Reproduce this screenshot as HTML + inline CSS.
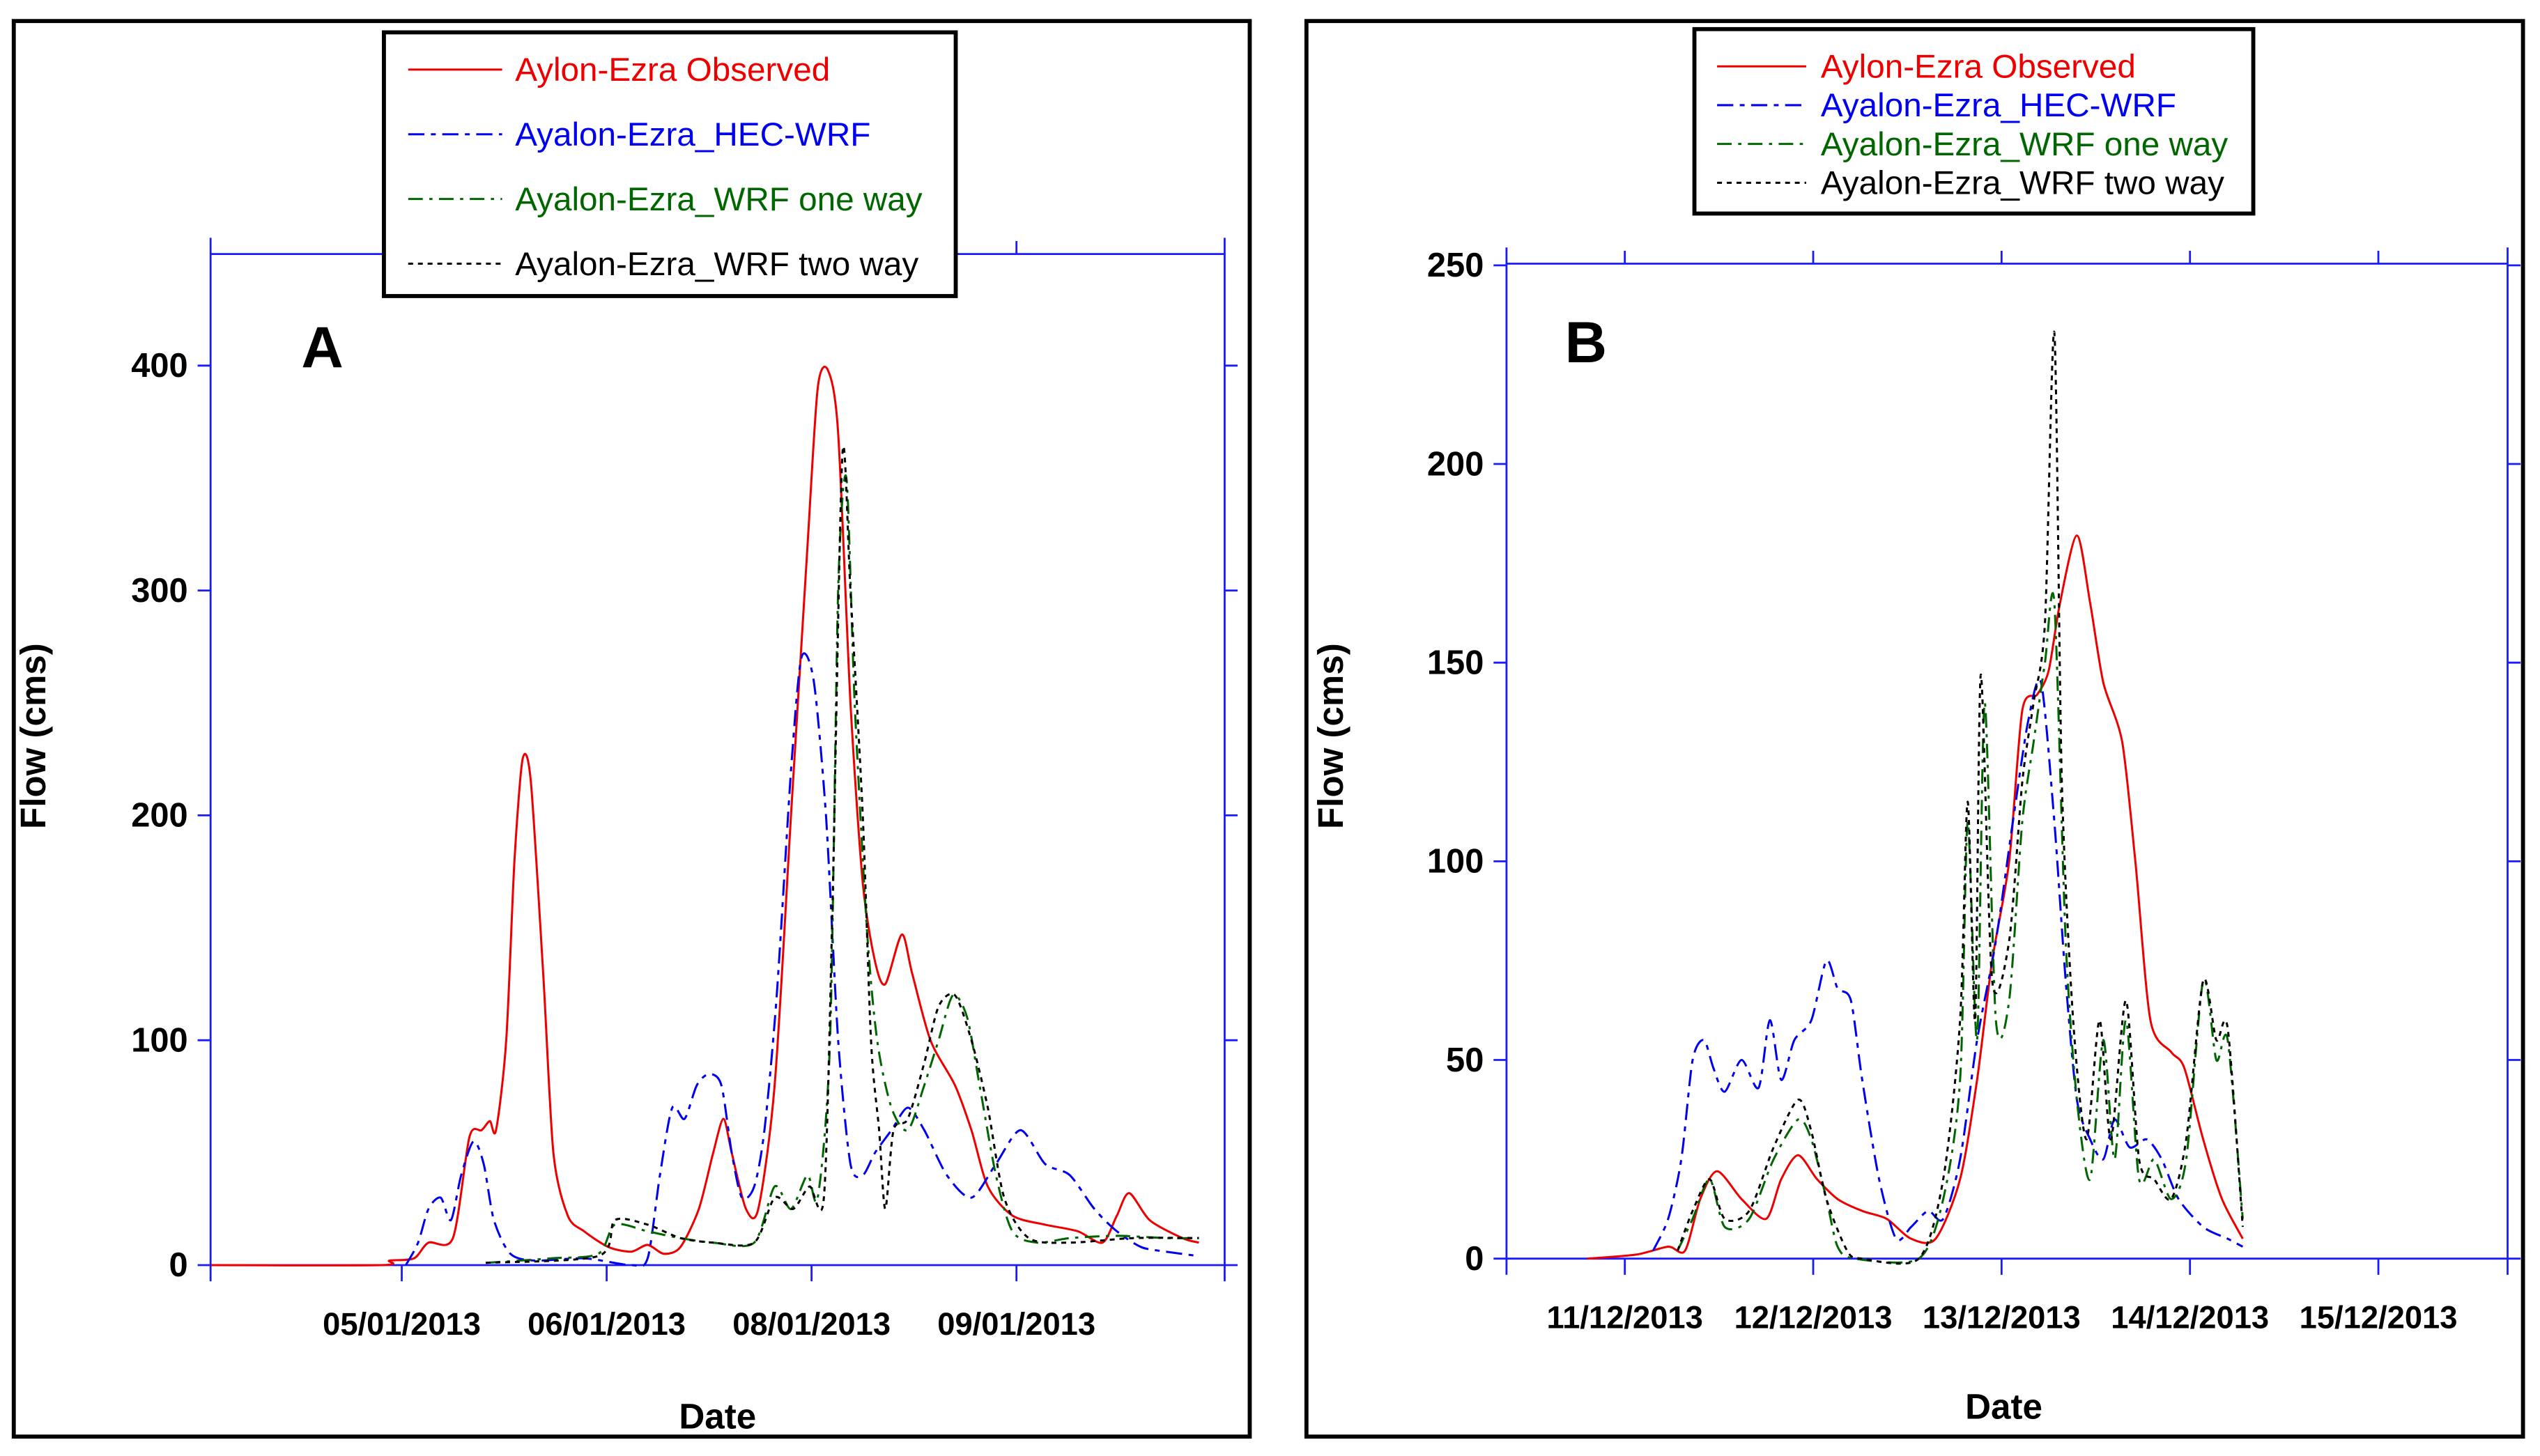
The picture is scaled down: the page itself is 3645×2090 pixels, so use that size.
<!DOCTYPE html>
<html><head><meta charset="utf-8"><style>
html,body{margin:0;padding:0;background:#fff;}
svg{display:block;}
text{font-family:"Liberation Sans",Arial,sans-serif;}
</style></head><body>
<svg id="chart" width="3645" height="2090" viewBox="0 0 1568 900" preserveAspectRatio="none" xmlns="http://www.w3.org/2000/svg">
<rect x="0" y="0" width="1568" height="900" fill="#fff"/>
<rect x="8.5" y="13" width="763" height="875" fill="none" stroke="#000" stroke-width="2.5"/>
<rect x="806.5" y="13" width="751" height="875" fill="none" stroke="#000" stroke-width="2.5"/>
<g id="gA"></g>
<g id="gB"></g>
</svg>
<script>
// ---- Panel A data (x: label index, 0=05/01/2013, 1=06/01, 2=08/01, 3=09/01) ----
const aTickLabels = ["05/01/2013","06/01/2013","08/01/2013","09/01/2013"];
const aYTicks = [0,100,200,300,400];
const aObsX = [-0.93,-0.10,-0.06,0.06,0.13,0.25,0.33,0.39,0.43,0.46,0.51,0.55,0.59,0.63,0.69,0.74,0.81,0.89,1.01,1.12,1.20,1.28,1.36,1.45,1.52,1.57,1.61,1.68,1.74,1.82,1.90,1.98,2.03,2.08,2.13,2.19,2.25,2.31,2.36,2.44,2.49,2.58,2.70,2.78,2.86,2.98,3.14,3.30,3.42,3.49,3.55,3.65,3.81,3.89];
const aObsY = [0,0,2,3,10,12,57,60,64,60,100,180,225,215,130,50,22,15,8,6,9,5,8,25,50,65,50,25,25,80,200,320,390,398,370,250,170,135,125,147,130,100,80,60,35,22,18,15,10,22,32,20,12,10];
const aHecX = [0.02,0.08,0.13,0.19,0.24,0.29,0.35,0.40,0.45,0.53,0.65,0.89,1.12,1.20,1.26,1.32,1.38,1.44,1.50,1.56,1.61,1.66,1.72,1.77,1.83,1.90,1.95,2.01,2.07,2.13,2.19,2.25,2.31,2.39,2.47,2.55,2.66,2.78,2.90,3.02,3.14,3.26,3.38,3.49,3.61,3.73,3.89];
const aHecY = [0,10,25,30,20,40,55,45,20,5,2,3,0,3,40,70,65,80,85,80,50,30,35,60,120,220,270,260,200,100,45,40,50,60,70,60,40,30,45,60,45,40,25,15,8,6,4];
const aOneX = [0.41,0.73,0.96,1.04,1.20,1.36,1.52,1.72,1.82,1.90,1.98,2.03,2.09,2.13,2.17,2.21,2.27,2.32,2.39,2.47,2.55,2.62,2.69,2.76,2.82,2.90,2.98,3.10,3.26,3.49,3.73,3.89];
const aOneY = [1,3,5,18,15,12,10,10,35,25,40,30,100,300,350,250,150,100,70,60,80,100,120,110,80,40,15,10,12,13,12,12];
const aTwoX = [0.41,0.96,1.04,1.20,1.36,1.52,1.72,1.82,1.91,1.99,2.06,2.10,2.15,2.19,2.25,2.29,2.33,2.36,2.40,2.47,2.55,2.62,2.70,2.78,2.86,2.94,3.06,3.26,3.57,3.89];
const aTwoY = [1,4,20,18,12,10,10,30,25,35,30,150,360,300,200,100,60,25,60,65,90,115,120,100,70,30,12,10,12,12];

// ---- Panel B data (x: days since 11/12/2013) ----
const bTickLabels = ["11/12/2013","12/12/2013","13/12/2013","14/12/2013","15/12/2013"];
const bYTicks = [0,50,100,150,200,250];
const bObsX = [-0.20,0.06,0.23,0.32,0.40,0.49,0.62,0.75,0.83,0.92,1.02,1.13,1.26,1.39,1.52,1.65,1.78,1.87,1.95,2.04,2.11,2.19,2.25,2.31,2.40,2.47,2.54,2.64,2.71,2.79,2.90,2.97,3.07,3.17,3.28];
const bObsY = [0,1,3,2,15,22,15,10,20,26,20,15,12,10,5,5,20,45,75,100,138,142,148,165,182,165,145,130,100,60,52,48,30,15,5];
const bHecX = [0.15,0.23,0.30,0.36,0.42,0.47,0.53,0.62,0.71,0.77,0.83,0.90,0.99,1.07,1.13,1.20,1.26,1.35,1.44,1.52,1.61,1.69,1.78,1.87,1.97,2.06,2.14,2.21,2.28,2.34,2.40,2.47,2.54,2.60,2.68,2.77,2.85,2.94,3.07,3.20,3.28];
const bHecY = [2,10,25,50,55,48,42,50,43,60,45,55,60,75,68,65,45,20,5,8,12,10,25,55,80,110,135,145,110,70,40,30,25,35,28,30,25,15,8,5,3];
const bOneX = [0.28,0.36,0.45,0.53,0.66,0.79,0.92,0.99,1.07,1.13,1.22,1.56,1.69,1.78,1.82,1.87,1.91,1.97,2.04,2.11,2.17,2.23,2.28,2.34,2.40,2.47,2.54,2.60,2.66,2.73,2.81,2.90,2.98,3.07,3.14,3.20,3.28];
const bOneY = [2,10,20,8,10,25,35,30,15,3,0,0,15,45,110,55,140,60,65,110,130,150,165,80,40,20,55,25,60,20,25,15,25,70,50,55,10];
const bTwoX = [0.28,0.36,0.45,0.53,0.66,0.79,0.92,0.99,1.07,1.18,1.26,1.56,1.69,1.78,1.82,1.86,1.89,1.95,2.04,2.11,2.17,2.23,2.28,2.32,2.38,2.45,2.52,2.58,2.66,2.73,2.81,2.90,2.98,3.07,3.14,3.20,3.28];
const bTwoY = [2,12,20,10,12,28,40,32,15,2,0,0,20,60,115,60,147,70,80,120,140,160,233,120,60,30,60,30,65,25,20,15,30,70,55,58,8];

const NS = "http://www.w3.org/2000/svg";
function mk(parent, tag, attrs, txt){
  const e = document.createElementNS(NS, tag);
  for (const k in attrs) e.setAttribute(k, attrs[k]);
  if (txt !== undefined) e.textContent = txt;
  parent.appendChild(e);
  return e;
}
const BLUE = "#1a1aff";
const styles = {
  obs:{stroke:"#ee0000", dash:""},
  hec:{stroke:"#0000ee", dash:"10,4,3,4"},
  one:{stroke:"#006600", dash:"9,4,2,4"},
  two:{stroke:"#000000", dash:"3,3"}
};
function smoothPath(pts){
  let d = "M"+pts[0][0].toFixed(1)+","+pts[0][1].toFixed(1);
  for (let i=0;i<pts.length-1;i++){
    const p0 = pts[i-1]||pts[i], p1 = pts[i], p2 = pts[i+1], p3 = pts[i+2]||p2;
    const t = 0.27;
    const c1x = p1[0]+(p2[0]-p0[0])*t/2, c1y = p1[1]+(p2[1]-p0[1])*t/2;
    const c2x = p2[0]-(p3[0]-p1[0])*t/2, c2y = p2[1]-(p3[1]-p1[1])*t/2;
    d += " C"+c1x.toFixed(1)+","+c1y.toFixed(1)+" "+c2x.toFixed(1)+","+c2y.toFixed(1)+" "+p2[0].toFixed(1)+","+p2[1].toFixed(1);
  }
  return d;
}

function drawPanel(g, cfg){
  const sx = v => cfg.x0 + (v - cfg.d0) * (cfg.x1 - cfg.x0) / (cfg.d1 - cfg.d0);
  const sy = v => cfg.yb - v * (cfg.yb - cfg.yt) / cfg.ymax;
  let e;
  e = mk(g,"line",{x1:cfg.x0,y1:cfg.axTop-10,x2:cfg.x0,y2:cfg.yb+10,stroke:BLUE,"stroke-width":1.2});
   
  e = mk(g,"line",{x1:cfg.x1,y1:cfg.axTop-10,x2:cfg.x1,y2:cfg.yb+10,stroke:BLUE,"stroke-width":1.2});
   
  e = mk(g,"line",{x1:cfg.x0,y1:cfg.yb,x2:cfg.x1,y2:cfg.yb,stroke:BLUE,"stroke-width":1.2});
   
  e = mk(g,"line",{x1:cfg.x0,y1:cfg.axTop,x2:cfg.x1,y2:cfg.axTop,stroke:BLUE,"stroke-width":1.2});
   
  cfg.yTicks.forEach(v=>{
    const y = sy(v);
    let t = mk(g,"line",{x1:cfg.x0-8,y1:y,x2:cfg.x0,y2:y,stroke:BLUE,"stroke-width":1.2});
     
    t = mk(g,"line",{x1:cfg.x1,y1:y,x2:cfg.x1+8,y2:y,stroke:BLUE,"stroke-width":1.2});
     
    const l = mk(g,"text",{x:cfg.x0-14,y:y+7,"text-anchor":"end","font-size":21,"font-weight":"bold",fill:"#000"},String(v));
     
  });
  cfg.xLabels.forEach((lab,i)=>{
    const x = sx(i);
    let t = mk(g,"line",{x1:x,y1:cfg.yb,x2:x,y2:cfg.yb+10,stroke:BLUE,"stroke-width":1.2});
     
    t = mk(g,"line",{x1:x,y1:cfg.axTop-8,x2:x,y2:cfg.axTop,stroke:BLUE,"stroke-width":1.2});
     
    const l = mk(g,"text",{x:x,y:cfg.yb+43,"text-anchor":"middle","font-size":19.5,"font-weight":"bold",fill:"#000"},lab);
     
  });
  let tt = mk(g,"text",{x:(cfg.x0+cfg.x1)/2 - cfg.dateShift,y:cfg.dateY,"text-anchor":"middle","font-size":22,"font-weight":"bold",fill:"#000"},"Date");
   
  tt = mk(g,"text",{x:cfg.ytX,y:cfg.ytY,"text-anchor":"middle","font-size":22,"font-weight":"bold",fill:"#000",transform:`rotate(-90 ${cfg.ytX} ${cfg.ytY})`},"Flow (cms)");
   
  tt = mk(g,"text",{x:cfg.letterX,y:cfg.letterY,"font-size":36,"font-weight":"bold",fill:"#000"},cfg.letter);
   
  cfg.series.forEach(s=>{
    const pts = s.xs.map((xv,i)=>[sx(xv), sy(s.ys[i])]);
    const p = mk(g,"path",{d:smoothPath(pts),fill:"none",stroke:styles[s.k].stroke,"stroke-width":1.3,"stroke-dasharray":styles[s.k].dash,"stroke-linejoin":"round"});
     
  });
  const L = cfg.legend;
  const box = mk(g,"rect",{x:L.x,y:L.y,width:L.w,height:L.h,fill:"#fff",stroke:"#000","stroke-width":2.5});
   
  const names = [["obs","Aylon-Ezra Observed","#ee0000"],["hec","Ayalon-Ezra_HEC-WRF","#0000ee"],["one","Ayalon-Ezra_WRF one way","#006600"],["two","Ayalon-Ezra_WRF two way","#000"]];
  names.forEach((n,i)=>{
    const y = L.y0 + i*L.dy;
    const ln = mk(g,"line",{x1:L.lx0,y1:y,x2:L.lx1,y2:y,stroke:styles[n[0]].stroke,"stroke-width":1.3,"stroke-dasharray":styles[n[0]].dash});
     
    const tx = mk(g,"text",{x:L.tx,y:y+7,"font-size":L.fs,fill:n[2]},n[1]);
     
  });
}

drawPanel(document.getElementById("gA"),{
  x0:130,x1:756,d0:-0.933,d1:4.016,yb:782,yt:226,ymax:400,axTop:157,
  yTicks:aYTicks,xLabels:aTickLabels,dateShift:0,dateY:883,ytX:28,ytY:455,
  letter:"A",letterX:186,letterY:227,
  series:[{k:"obs",xs:aObsX,ys:aObsY,name:"observed-line"},{k:"hec",xs:aHecX,ys:aHecY,name:"hec-wrf-line"},{k:"one",xs:aOneX,ys:aOneY,name:"wrf-one-way-line"},{k:"two",xs:aTwoX,ys:aTwoY,name:"wrf-two-way-line"}],
  legend:{x:237,y:20,w:353,h:163,y0:43,dy:40,lx0:252,lx1:310,tx:318,fs:20.5}
});
drawPanel(document.getElementById("gB"),{
  x0:930,x1:1548,d0:-0.628,d1:4.686,yb:778,yt:164,ymax:250,axTop:163,
  yTicks:bYTicks,xLabels:bTickLabels,dateShift:2,dateY:877,ytX:829,ytY:455,
  letter:"B",letterX:966,letterY:224,
  series:[{k:"obs",xs:bObsX,ys:bObsY,name:"observed-line"},{k:"hec",xs:bHecX,ys:bHecY,name:"hec-wrf-line"},{k:"one",xs:bOneX,ys:bOneY,name:"wrf-one-way-line"},{k:"two",xs:bTwoX,ys:bTwoY,name:"wrf-two-way-line"}],
  legend:{x:1046,y:18,w:345,h:114,y0:41,dy:24,lx0:1060,lx1:1115,tx:1124,fs:20.5}
});
</script>
</body></html>
